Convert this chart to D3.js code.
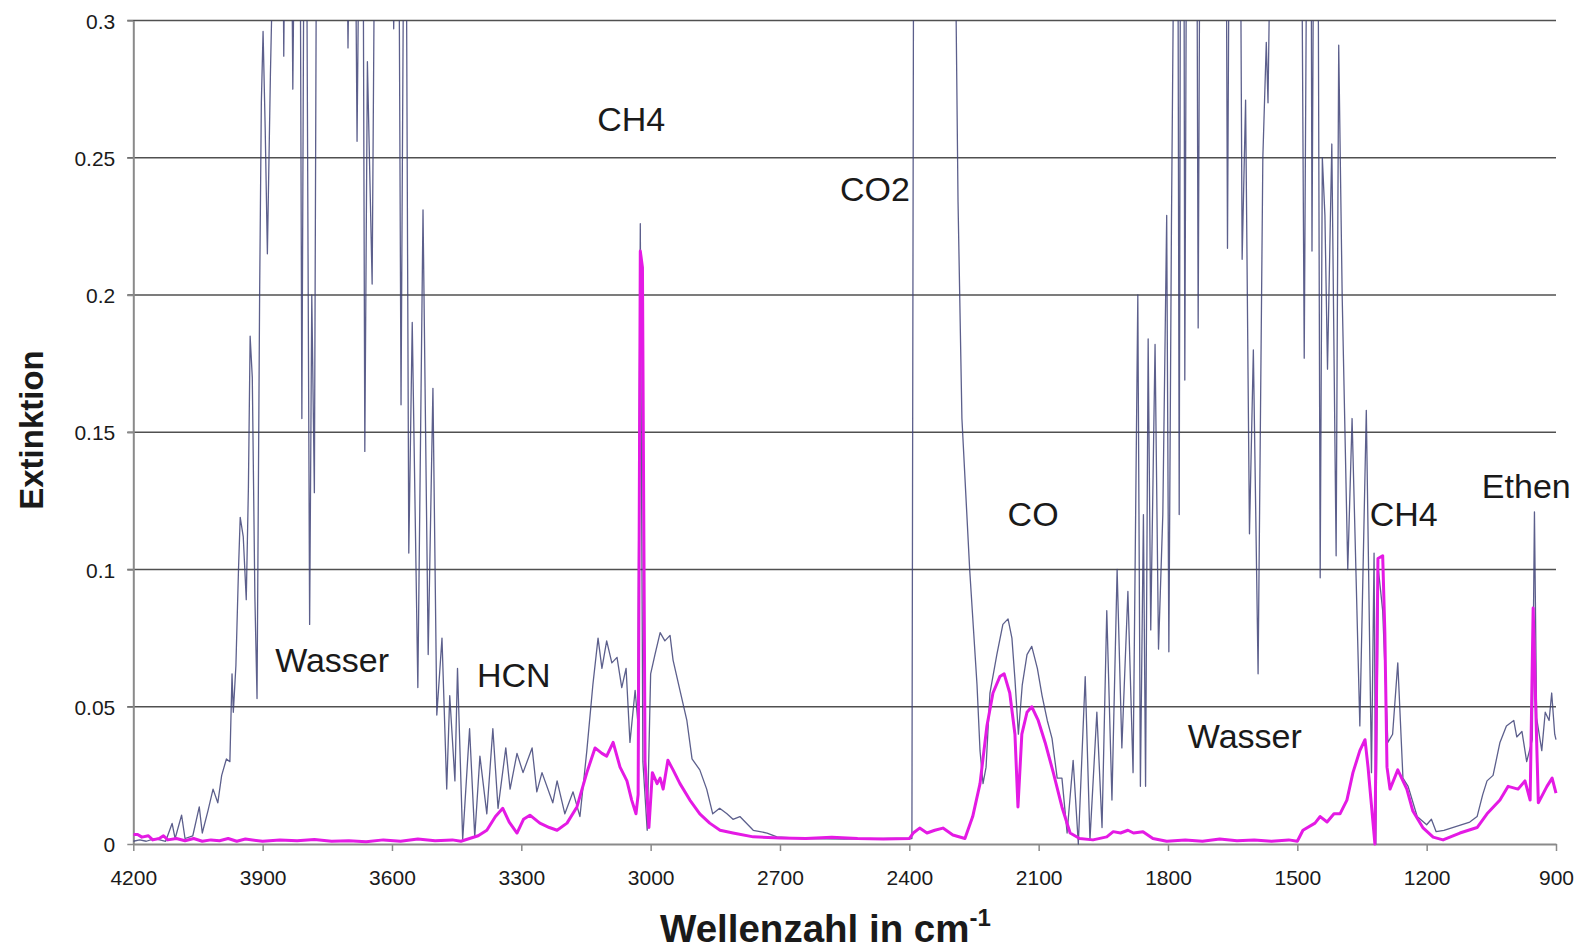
<!DOCTYPE html>
<html>
<head>
<meta charset="utf-8">
<script src="https://cdn.jsdelivr.net/npm/d3@7"></script>
<style>
  body { margin: 0; background: #fff; }
  svg text { font-family: "Liberation Sans", Arial, sans-serif; fill: #1a1a1a; }
</style>
</head>
<body>
<div id="vis"></div>
<script>
const width = 1578;
const height = 950;
const margin = { top: 20.5, right: 22, bottom: 106, left: 133.3 };

// tick values
const xTicks = [4200, 3900, 3600, 3300, 3000, 2700, 2400, 2100, 1800, 1500, 1200, 900];
const yTicks = [0, 0.05, 0.1, 0.15, 0.2, 0.25, 0.3];

// dark (navy) spectrum: [wavenumber, extinction], values above 0.3 run off the top
const darkSpectrum = [
  [4200, 0.001], [4185, 0.0015], [4170, 0.001], [4150, 0.002], [4125, 0.001], [4110, 0.0075],
  [4103, 0.002], [4088, 0.0105], [4080, 0.002], [4062, 0.003], [4047, 0.0135], [4040, 0.004],
  [4027, 0.012], [4015, 0.02], [4004, 0.015], [3995, 0.025], [3984, 0.031], [3976, 0.03],
  [3971, 0.062], [3968, 0.048], [3962, 0.065], [3956, 0.1], [3952, 0.119], [3945, 0.112],
  [3938, 0.089], [3933, 0.13], [3929, 0.185], [3924, 0.17], [3918, 0.09], [3913, 0.053],
  [3907, 0.2], [3903, 0.27], [3899, 0.296], [3894, 0.26], [3889, 0.215], [3882, 0.28],
  [3874, 0.34], [3853, 0.34], [3851, 0.287], [3848, 0.34], [3833, 0.34], [3830, 0.275],
  [3826, 0.34], [3813, 0.34], [3809, 0.155], [3804, 0.34], [3797, 0.3], [3791, 0.08],
  [3786, 0.2], [3780, 0.128], [3775, 0.34], [3705, 0.34], [3702, 0.29], [3698, 0.34],
  [3685, 0.34], [3681, 0.256], [3676, 0.34], [3667, 0.34], [3663, 0.143], [3657, 0.285],
  [3646, 0.204], [3640, 0.34], [3600, 0.34], [3596, 0.297], [3592, 0.34], [3584, 0.34],
  [3579, 0.16], [3574, 0.3], [3567, 0.34], [3561, 0.106], [3553, 0.19], [3540, 0.057],
  [3528, 0.231], [3516, 0.069], [3505, 0.166], [3496, 0.047], [3484, 0.075], [3473, 0.02],
  [3466, 0.054], [3454, 0.023], [3448, 0.064], [3436, 0.0015], [3420, 0.042], [3408, 0.0026],
  [3396, 0.032], [3380, 0.011], [3366, 0.042], [3354, 0.013], [3336, 0.035], [3326, 0.02],
  [3310, 0.033], [3296, 0.026], [3275, 0.035], [3264, 0.019], [3252, 0.026], [3227, 0.015],
  [3217, 0.023], [3199, 0.011], [3180, 0.019], [3164, 0.01], [3148, 0.034], [3134, 0.058],
  [3122, 0.075], [3113, 0.064], [3102, 0.074], [3090, 0.066], [3078, 0.068], [3067, 0.057],
  [3057, 0.064], [3048, 0.037], [3036, 0.056], [3030, 0.045], [3024, 0.226], [3018, 0.03],
  [3008, 0.005], [3000, 0.062], [2990, 0.069], [2978, 0.077], [2967, 0.074], [2955, 0.076],
  [2948, 0.067], [2932, 0.056], [2916, 0.045], [2904, 0.031], [2886, 0.027], [2870, 0.02],
  [2856, 0.011], [2840, 0.013], [2823, 0.011], [2809, 0.009], [2793, 0.01], [2762, 0.005],
  [2730, 0.004], [2707, 0.0026], [2650, 0.002], [2550, 0.0018], [2450, 0.002], [2394, 0.002],
  [2390, 0.34], [2294, 0.34], [2287, 0.234], [2278, 0.155], [2260, 0.1], [2243, 0.058],
  [2236, 0.034], [2229, 0.022], [2222, 0.028], [2213, 0.055], [2197, 0.069], [2183, 0.08],
  [2171, 0.082], [2162, 0.075], [2155, 0.06], [2147, 0.04], [2138, 0.058], [2127, 0.069],
  [2116, 0.072], [2103, 0.064], [2092, 0.054], [2080, 0.045], [2069, 0.0385], [2057, 0.024],
  [2046, 0.024], [2034, 0.004], [2020, 0.0305], [2008, 0.0], [1992, 0.061], [1981, 0.0015],
  [1965, 0.048], [1953, 0.006], [1942, 0.085], [1930, 0.016], [1918, 0.1], [1907, 0.035],
  [1893, 0.092], [1881, 0.026], [1870, 0.2], [1864, 0.021], [1857, 0.12], [1852, 0.021],
  [1846, 0.184], [1840, 0.078], [1830, 0.182], [1822, 0.071], [1812, 0.12], [1803, 0.229],
  [1798, 0.07], [1792, 0.225], [1786, 0.34], [1777, 0.34], [1774, 0.12], [1771, 0.34],
  [1763, 0.34], [1761, 0.169], [1757, 0.34], [1733, 0.34], [1730, 0.188], [1726, 0.34],
  [1665, 0.34], [1662, 0.217], [1658, 0.34], [1632, 0.34], [1628, 0.213], [1620, 0.271],
  [1611, 0.113], [1602, 0.18], [1591, 0.062], [1580, 0.25], [1572, 0.292], [1568, 0.27],
  [1562, 0.34], [1490, 0.34], [1484, 0.177], [1478, 0.34], [1468, 0.34], [1466, 0.216],
  [1462, 0.34], [1452, 0.34], [1447, 0.097], [1442, 0.25], [1436, 0.229], [1430, 0.173],
  [1420, 0.255], [1410, 0.105], [1404, 0.291], [1396, 0.2], [1383, 0.1], [1373, 0.155],
  [1355, 0.043], [1340, 0.158], [1328, 0.026], [1322, 0.106], [1318, 0.0], [1312, 0.1],
  [1302, 0.085], [1290, 0.037], [1279, 0.04], [1267, 0.066], [1255, 0.024], [1243, 0.021],
  [1222, 0.01], [1200, 0.007], [1189, 0.009], [1178, 0.0045], [1160, 0.005], [1140, 0.006],
  [1100, 0.008], [1083, 0.01], [1070, 0.018], [1060, 0.023], [1046, 0.025], [1030, 0.037],
  [1015, 0.043], [998, 0.045], [991, 0.039], [979, 0.041], [968, 0.03], [955, 0.038],
  [950, 0.121], [945, 0.046], [933, 0.034], [925, 0.048], [916, 0.045], [910, 0.055],
  [903, 0.04], [900, 0.038]
];

// magenta spectrum
const magentaSpectrum = [
  [4200, 0.0035], [4190, 0.0035], [4180, 0.0025], [4165, 0.003], [4155, 0.0015], [4140, 0.002],
  [4130, 0.003], [4120, 0.0015], [4100, 0.002], [4080, 0.0012], [4060, 0.002], [4040, 0.001],
  [4020, 0.0015], [4000, 0.0012], [3980, 0.002], [3960, 0.001], [3940, 0.0018], [3900, 0.001],
  [3860, 0.0015], [3820, 0.0012], [3780, 0.0016], [3740, 0.001], [3700, 0.0012], [3660, 0.0008],
  [3620, 0.0015], [3580, 0.001], [3540, 0.0018], [3500, 0.0012], [3460, 0.0015], [3440, 0.001],
  [3400, 0.003], [3380, 0.005], [3360, 0.01], [3343, 0.013], [3328, 0.008], [3310, 0.004],
  [3295, 0.009], [3280, 0.0105], [3257, 0.0076], [3235, 0.006], [3217, 0.005], [3194, 0.0076],
  [3171, 0.0135], [3148, 0.026], [3129, 0.035], [3113, 0.033], [3102, 0.032], [3087, 0.037],
  [3071, 0.028], [3055, 0.023], [3044, 0.016], [3034, 0.011], [3029, 0.018], [3024, 0.216],
  [3019, 0.21], [3013, 0.03], [3004, 0.006], [2996, 0.026], [2985, 0.022], [2978, 0.024],
  [2971, 0.02], [2960, 0.0305], [2948, 0.027], [2932, 0.022], [2909, 0.016], [2886, 0.011],
  [2863, 0.0076], [2839, 0.005], [2809, 0.004], [2762, 0.0026], [2700, 0.0022], [2640, 0.002],
  [2580, 0.0025], [2520, 0.002], [2460, 0.0018], [2400, 0.002], [2391, 0.004], [2376, 0.0058],
  [2359, 0.004], [2341, 0.005], [2322, 0.0058], [2299, 0.0033], [2271, 0.002], [2253, 0.01],
  [2236, 0.022], [2220, 0.043], [2206, 0.055], [2190, 0.061], [2180, 0.062], [2167, 0.055],
  [2155, 0.04], [2148, 0.0135], [2139, 0.04], [2127, 0.048], [2116, 0.05], [2101, 0.045],
  [2085, 0.037], [2066, 0.026], [2046, 0.0135], [2027, 0.004], [2005, 0.002], [1974, 0.0015],
  [1942, 0.0026], [1927, 0.0045], [1910, 0.004], [1893, 0.005], [1880, 0.004], [1858, 0.0045],
  [1835, 0.002], [1803, 0.001], [1760, 0.0015], [1720, 0.001], [1680, 0.0018], [1640, 0.0012],
  [1600, 0.0015], [1560, 0.001], [1520, 0.0015], [1500, 0.001], [1487, 0.005], [1459, 0.0076],
  [1447, 0.01], [1431, 0.008], [1415, 0.011], [1401, 0.011], [1385, 0.016], [1371, 0.026],
  [1355, 0.034], [1343, 0.038], [1336, 0.028], [1320, 0.0], [1313, 0.104], [1302, 0.105],
  [1297, 0.077], [1292, 0.028], [1285, 0.02], [1267, 0.027], [1246, 0.02], [1232, 0.012],
  [1209, 0.006], [1185, 0.0025], [1162, 0.0015], [1123, 0.004], [1083, 0.006], [1060, 0.011],
  [1030, 0.016], [1011, 0.021], [988, 0.02], [972, 0.023], [960, 0.016], [953, 0.086],
  [947, 0.05], [941, 0.015], [921, 0.021], [909, 0.024], [900, 0.0185]
];

// band labels, anchored at [wavenumber, extinction]
const labelText = ["Wasser", "HCN", "CH4", "CO2", "CO", "Wasser", "CH4", "Ethen"];
const labelWn = [3871, 3403, 3124, 2561, 2172, 1754, 1332, 1072];
const labelVal = [0.0625, 0.0571, 0.2596, 0.2342, 0.116, 0.0349, 0.116, 0.1262];

const svg = d3.select("#vis").append("svg")
  .attr("width", width)
  .attr("height", height);

const xScale = d3.scaleLinear().domain([4200, 900]).range([margin.left, width - margin.right]);
const yScale = d3.scaleLinear().domain([0, 0.3]).range([height - margin.bottom, margin.top]);
const y0 = height - margin.bottom;

// gridlines
svg.append("g")
  .selectAll("line")
  .data(yTicks.filter(d => d > 0))
  .join("line")
  .attr("x1", margin.left - 6)
  .attr("x2", width - margin.right)
  .attr("y1", d => yScale(d))
  .attr("y2", d => yScale(d))
  .attr("stroke", "#505050")
  .attr("stroke-width", 1.5);

// y axis
const yAxis = svg.append("g")
  .attr("transform", `translate(${margin.left},0)`)
  .call(d3.axisLeft(yScale).tickValues(yTicks).tickSize(6).tickSizeOuter(0).tickFormat(d => String(d)));
yAxis.select(".domain").attr("stroke", "#8a8a8a").attr("stroke-width", 2);
yAxis.selectAll(".tick line").attr("stroke", "#8a8a8a").attr("stroke-width", 1.5);
yAxis.selectAll(".tick text")
  .attr("x", -18)
  .attr("dy", "0.36em")
  .style("font-size", "21px")
  .style("font-family", "Liberation Sans, Arial, sans-serif")
  .attr("fill", "#1a1a1a");

// x axis
const xAxis = svg.append("g")
  .attr("transform", `translate(0,${y0})`)
  .call(d3.axisBottom(xScale).tickValues(xTicks).tickSize(7).tickSizeOuter(0).tickFormat(d3.format("d")));
xAxis.select(".domain").attr("stroke", "#8a8a8a").attr("stroke-width", 2);
xAxis.selectAll(".tick line").attr("stroke", "#8a8a8a").attr("stroke-width", 1.5);
xAxis.selectAll(".tick text")
  .attr("y", 41)
  .attr("dy", 0)
  .style("font-size", "21px")
  .style("font-family", "Liberation Sans, Arial, sans-serif")
  .attr("fill", "#1a1a1a");

// clip the spectra at the top of the plot
svg.append("clipPath").attr("id", "plotClip")
  .append("rect")
  .attr("x", margin.left)
  .attr("y", margin.top)
  .attr("width", width - margin.right - margin.left + 2)
  .attr("height", y0 - margin.top + 6);

const line = d3.line()
  .x(d => xScale(d[0]))
  .y(d => yScale(d[1]));

const plot = svg.append("g").attr("clip-path", "url(#plotClip)");

plot.append("path")
  .datum(darkSpectrum)
  .attr("d", line)
  .attr("fill", "none")
  .attr("stroke", "#3f4378")
  .attr("stroke-opacity", 0.85)
  .attr("stroke-width", 1.3)
  .attr("stroke-linejoin", "round");

plot.append("path")
  .datum(magentaSpectrum)
  .attr("d", line)
  .attr("fill", "none")
  .attr("stroke", "#e41ae4")
  .attr("stroke-width", 3)
  .attr("stroke-linejoin", "round");

// band labels
svg.append("g")
  .selectAll("text")
  .data(labelText)
  .join("text")
  .attr("x", (d, i) => xScale(labelWn[i]))
  .attr("y", (d, i) => yScale(labelVal[i]))
  .style("font-size", "34px")
  .text(d => d);

// axis titles
const xTitle = svg.append("text")
  .attr("x", 660)
  .attr("y", 942)
  .style("font-size", "38.5px")
  .style("font-weight", "bold");
xTitle.append("tspan").text("Wellenzahl in cm");
xTitle.append("tspan")
  .attr("dy", -16)
  .style("font-size", "24px")
  .text("-1");

svg.append("text")
  .attr("transform", "translate(43,430) rotate(-90)")
  .attr("text-anchor", "middle")
  .style("font-size", "33px")
  .style("font-weight", "bold")
  .text("Extinktion");
</script>
</body>
</html>
